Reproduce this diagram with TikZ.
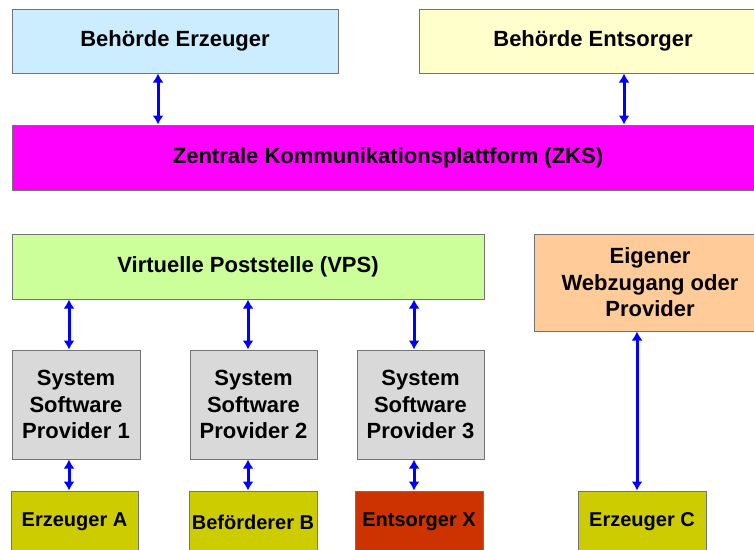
\documentclass[tikz,border=0pt]{standalone}
\usepackage{fontspec}
\setmainfont{Liberation Sans}
\usetikzlibrary{arrows.meta,positioning}
\definecolor{hellblau}{HTML}{CCECFF}
\definecolor{hellgelb}{HTML}{FFFFCC}
\definecolor{magenta2}{HTML}{FF00FF}
\definecolor{hellgruen}{HTML}{CCFF99}
\definecolor{grau}{HTML}{D9D9D9}
\definecolor{oliv}{HTML}{CCCC00}
\definecolor{rot}{HTML}{CC3300}
\definecolor{apricot}{HTML}{FFCC99}
\begin{document}
\begin{tikzpicture}[x=1pt,y=-1pt,
    box/.style={draw=black!55,line width=1pt,rectangle,inner sep=0pt,align=center,
        font=\fontsize{22}{26.5}\selectfont\bfseries},
    klein/.style={font=\fontsize{20}{24}\selectfont\bfseries},
    link/.style={draw=blue,line width=3pt,{Latex[length=9pt,width=11pt]}-{Latex[length=9pt,width=11pt]}}]
		\clip (0,0) rectangle (754,549);
		\fill[white] (0,0) rectangle (754,549);
		\node[box,fill=hellblau,minimum width=326pt,minimum height=64pt] (beErz) at (175,41) {Behörde Erzeuger};
		\node[box,fill=hellgelb,minimum width=348pt,minimum height=64pt] (beEnt) at (593,41) {Behörde Entsorger};
		\node[box,fill=magenta2,minimum width=752pt,minimum height=65pt] (zks) at (388,157.5) {Zentrale Kommunikationsplattform (ZKS)};
		\node[box,fill=hellgruen,minimum width=472pt,minimum height=65pt] (vps) at (248,266.5) {Virtuelle Poststelle (VPS)};
		\node[box,fill=apricot,minimum width=232pt,minimum height=97pt] (eig) at (650,282.5) {Eigener\\Webzugang oder\\Provider};
		\node[box,fill=grau,minimum width=128pt,minimum height=109pt] (ssp1) at (76,404.5) {System\\Software\\Provider 1};
		\node[box,fill=grau,minimum width=127pt,minimum height=109pt] (ssp2) at (253.5,404.5) {System\\Software\\Provider 2};
		\node[box,fill=grau,minimum width=127pt,minimum height=109pt] (ssp3) at (420.5,404.5) {System\\Software\\Provider 3};
		\node[box,klein,fill=oliv,minimum width=127pt,minimum height=62pt] (erzA) at (74.5,522) {Erzeuger A};
		\node[box,klein,fill=oliv,minimum width=128pt,minimum height=62pt] (befB) at (253,522) {Beförderer B};
		\node[box,klein,fill=rot,minimum width=128pt,minimum height=62pt] (entX) at (419,522) {Entsorger X};
		\node[box,klein,fill=oliv,minimum width=128pt,minimum height=62pt] (erzC) at (642,522) {Erzeuger C};
		
		\foreach \f/\t/\x in {beErz/zks/158, beEnt/zks/624, vps/ssp1/69, vps/ssp2/248, vps/ssp3/414,
			ssp1/erzA/69, ssp2/befB/248, ssp3/entX/414, eig/erzC/637}{
			\draw[link] (\f.south -| \x,0) -- (\t.north -| \x,0);
		}
	\end{tikzpicture}
\end{document}
